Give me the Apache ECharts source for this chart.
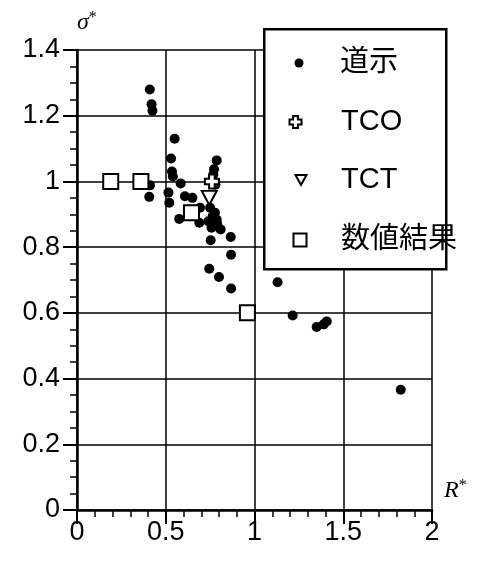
<!DOCTYPE html>
<html>
<head>
<meta charset="utf-8">
<script src="https://cdn.jsdelivr.net/npm/echarts@6/dist/echarts.min.js"></script>
<style>
  html, body { margin: 0; padding: 0; background: #fff; }
  #chart { width: 496px; height: 563px; }
</style>
</head>
<body>
<div id="chart"></div>
<script>
// 道示 (x: R*, y: σ*)
const michiData = [
  [0.41, 1.28], [0.42, 1.235], [0.425, 1.215], [0.55, 1.13],
  [0.53, 1.07], [0.535, 1.03], [0.54, 1.015],
  [0.787, 1.064], [0.772, 1.037], [0.768, 1.021], [0.78, 0.99],
  [0.584, 0.994], [0.411, 0.988], [0.407, 0.953],
  [0.515, 0.966], [0.52, 0.935], [0.608, 0.955], [0.65, 0.95],
  [0.693, 0.92], [0.576, 0.886], [0.689, 0.874],
  [0.75, 0.92], [0.777, 0.905], [0.787, 0.884], [0.74, 0.879],
  [0.765, 0.895], [0.79, 0.87], [0.77, 0.865],
  [0.758, 0.859], [0.809, 0.854], [0.866, 0.831], [0.753, 0.821],
  [0.868, 0.777], [0.745, 0.734], [0.8, 0.709], [0.868, 0.674],
  [1.13, 0.693], [1.215, 0.592], [1.35, 0.557], [1.39, 0.565],
  [1.407, 0.574], [1.824, 0.366]
];
const tcoData = [[0.76, 1.0]];
const tctData = [[0.745, 0.95]];
const numData = [[0.19, 1.0], [0.36, 1.0], [0.645, 0.905], [0.96, 0.6]];

const xTicks = { min: 0, max: 2, interval: 0.5 };
const yTicks = { min: 0, max: 1.4, interval: 0.2 };

const plusPath = 'path://M3,0H7V3H10V7H7V10H3V7H0V3H3Z';
const triPath = 'path://M0,0L10,0L5,9Z';

const labelFont = 'Liberation Sans, Arial, sans-serif';

const chart = echarts.init(document.getElementById('chart'));

function legendItem(name, top, left, w, h, pad) {
  return {
    data: [name],
    orient: 'vertical',
    left: left,
    top: top,
    padding: 0,
    z: 12,
    itemWidth: w,
    itemHeight: h,
    selectedMode: false,
    textStyle: {
      fontFamily: labelFont + ', Noto Sans CJK JP',
      fontSize: 29,
      color: '#000',
      lineHeight: 30,
      padding: [0, 0, 0, pad]
    }
  };
}

chart.setOption({
  backgroundColor: '#fff',
  animation: false,
  grid: { left: 77, right: 64, top: 50, bottom: 53 },
  legend: [
    legendItem('道示', 48, 294.5, 9, 9, 31.5),
    legendItem('TCO', 107, 288.5, 12, 12, 34.5),
    legendItem('TCT', 165, 294.5, 11, 10, 29.5),
    legendItem('数値結果', 225, 292.5, 13, 13, 29.5)
  ],
  graphic: [{
    type: 'rect',
    left: 263, top: 28,
    shape: { width: 182, height: 240 },
    style: { fill: '#fff', stroke: '#000', lineWidth: 2.5 },
    z: 10
  }],
  xAxis: {
    type: 'value',
    min: xTicks.min, max: xTicks.max, interval: xTicks.interval,
    name: '{i|R}{s|*}',
    nameLocation: 'end',
    nameGap: 12,
    nameTextStyle: {
      align: 'left',
      verticalAlign: 'bottom',
      padding: [0, 0, 6, 0],
      rich: {
        i: { fontFamily: 'Liberation Serif, serif', fontStyle: 'italic', fontSize: 24, color: '#000' },
        s: { fontFamily: 'Liberation Serif, serif', fontSize: 16, color: '#000', verticalAlign: 'top', padding: [0, 0, 10, 0] }
      }
    },
    axisLine: { lineStyle: { color: '#000', width: 2.5 } },
    axisTick: { length: 14, lineStyle: { color: '#000', width: 2 } },
    minorTick: { show: true, splitNumber: 5, length: 7, lineStyle: { color: '#000', width: 1.5 } },
    splitLine: { show: true, lineStyle: { color: '#000', width: 1.5 } },
    axisLabel: { color: '#000', fontSize: 27, fontFamily: labelFont, margin: 9 }
  },
  yAxis: {
    type: 'value',
    min: yTicks.min, max: yTicks.max, interval: yTicks.interval,
    name: '{i|σ}{s|*}',
    nameLocation: 'end',
    nameGap: 14,
    nameTextStyle: {
      align: 'left',
      rich: {
        i: { fontFamily: 'Liberation Serif, serif', fontStyle: 'italic', fontSize: 24, color: '#000' },
        s: { fontFamily: 'Liberation Serif, serif', fontSize: 16, color: '#000', verticalAlign: 'top', padding: [0, 0, 10, 0] }
      }
    },
    axisLine: { show: true, lineStyle: { color: '#000', width: 2.5 } },
    axisTick: { show: true, length: 14, lineStyle: { color: '#000', width: 2 } },
    minorTick: { show: true, splitNumber: 4, length: 7, lineStyle: { color: '#000', width: 1.5 } },
    splitLine: { show: true, lineStyle: { color: '#000', width: 1.5 } },
    axisLabel: { color: '#000', fontSize: 27, fontFamily: labelFont, margin: 17 }
  },
  series: [
    {
      name: '道示', type: 'scatter', data: michiData,
      symbol: 'circle', symbolSize: 10,
      itemStyle: { color: '#000', opacity: 1 }, z: 3
    },
    {
      name: 'TCO', type: 'scatter', data: tcoData,
      symbol: plusPath, symbolSize: 14,
      itemStyle: { color: '#fff', borderColor: '#000', borderWidth: 2, opacity: 1 }, z: 4
    },
    {
      name: 'TCT', type: 'scatter', data: tctData,
      symbol: triPath, symbolSize: [15, 14],
      itemStyle: { color: 'rgba(255,255,255,0)', borderColor: '#000', borderWidth: 2, opacity: 1 }, z: 4
    },
    {
      name: '数値結果', type: 'scatter', data: numData,
      symbol: 'rect', symbolSize: 15,
      itemStyle: { color: '#fff', borderColor: '#000', borderWidth: 2, opacity: 1 }, z: 4
    }
  ]
});
</script>
</body>
</html>
